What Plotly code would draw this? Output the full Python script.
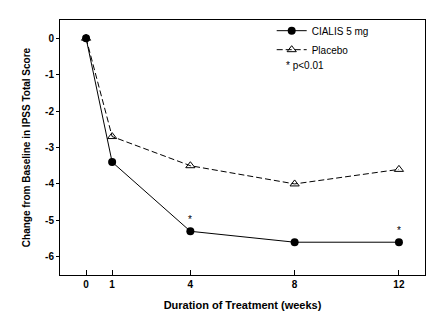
import plotly.graph_objects as go

weeks = [0, 1, 4, 8, 12]
cialis = [0, -3.4, -5.3, -5.6, -5.6]
placebo = [0, -2.7, -3.5, -4.0, -3.6]
sig_weeks = [4, 12]
sig_vals = [-5.3, -5.6]
x_ticks = [0, 1, 4, 8, 12]
y_ticks = [0, -1, -2, -3, -4, -5, -6]

font = "Liberation Sans, Arial, sans-serif"

fig = go.Figure()
fig.add_trace(go.Scatter(
    x=weeks, y=cialis, name="CIALIS 5 mg", mode="lines+markers",
    line=dict(color="black", width=1),
    marker=dict(symbol="circle", size=8, color="black"),
))
fig.add_trace(go.Scatter(
    x=weeks, y=placebo, name="Placebo", mode="lines+markers",
    line=dict(color="black", width=1, dash="6px,3px"),
    marker=dict(symbol="triangle-up-open", size=8, color="black", line=dict(width=1)),
))
for xw, yv in zip(sig_weeks, sig_vals):
    fig.add_annotation(x=xw, y=yv, text="*", showarrow=False, yshift=12,
                       font=dict(size=10, color="black", family=font))

fig.add_annotation(xref="paper", yref="paper", x=0.615, y=0.82, xanchor="left",
                   yanchor="middle", text="* p<0.01", showarrow=False,
                   font=dict(size=10, color="black", family=font))

fig.update_layout(
    width=434, height=322,
    margin=dict(l=60, r=9, t=20, b=47),
    paper_bgcolor="white", plot_bgcolor="white",
    font=dict(family=font, color="black"),
    showlegend=True,
    legend=dict(orientation="v", x=0.58, y=1.015, xanchor="left", yanchor="top",
                bgcolor="rgba(0,0,0,0)", font=dict(size=10, family=font),
                tracegroupgap=0),
)
fig.update_xaxes(
    range=[-1, 13], tickvals=x_ticks, ticktext=[str(v) for v in x_ticks],
    showline=True, linecolor="black", linewidth=1, mirror=True,
    ticks="inside", ticklen=5, tickcolor="black", showgrid=False, zeroline=False,
    tickfont=dict(size=10, family=font, weight="bold"),
    title=dict(text="<b>Duration of Treatment (weeks)</b>", font=dict(size=11, family=font), standoff=12),
)
fig.update_yaxes(
    range=[-6.5, 0.5], tickvals=y_ticks, ticktext=[str(v) for v in y_ticks],
    showline=True, linecolor="black", linewidth=1, mirror=True,
    ticks="outside", ticklen=3, tickcolor="black", showgrid=False, zeroline=False,
    tickfont=dict(size=10, family=font, weight="bold"),
    title=dict(text="<b>Change from Baseline in IPSS Total Score</b>", font=dict(size=10, family=font), standoff=12),
)
fig.write_html("out.html")
